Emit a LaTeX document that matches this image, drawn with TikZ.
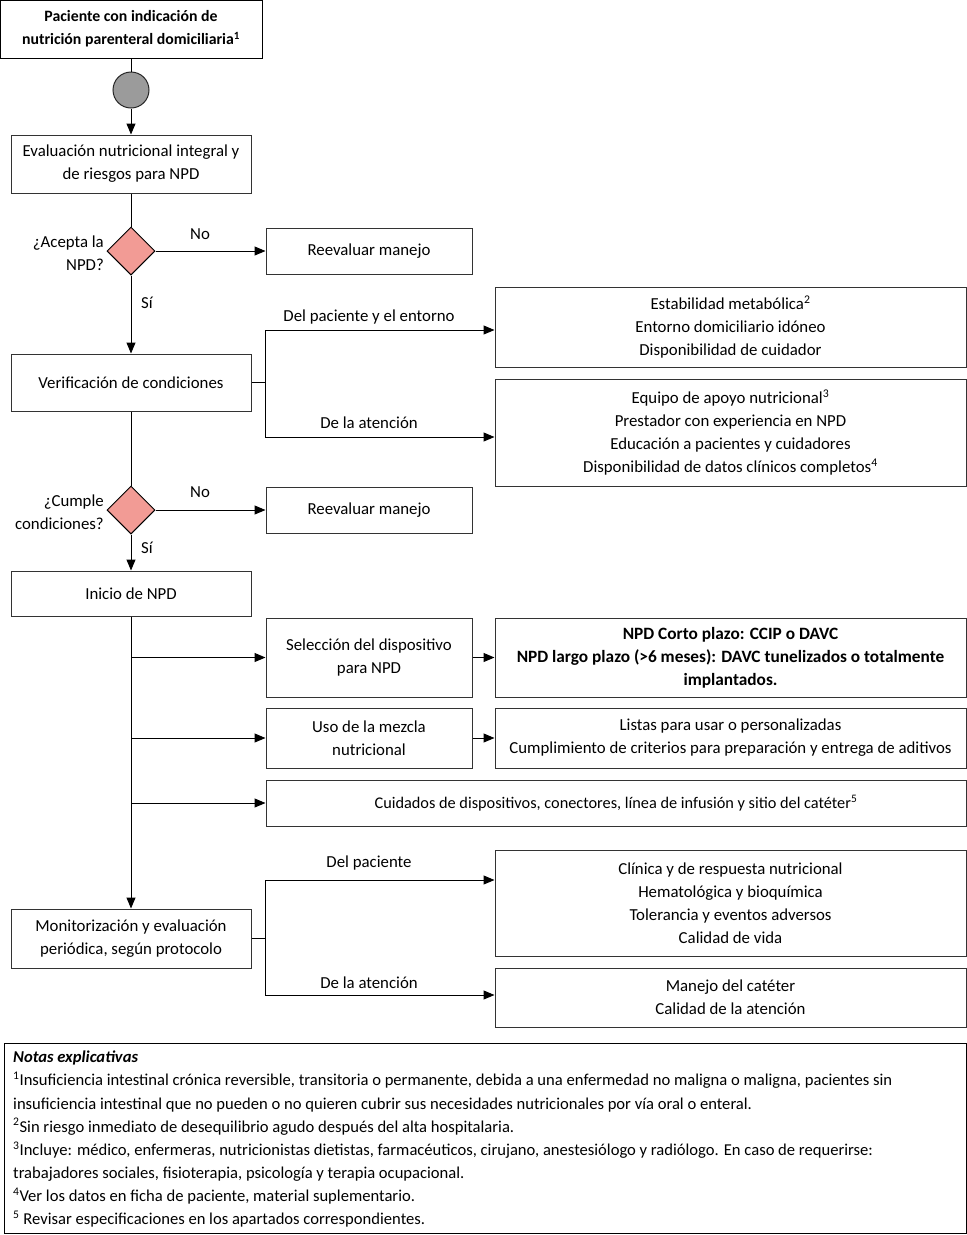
\documentclass[tikz,border=0pt]{standalone}
\usepackage{fontspec}
\setmainfont{Carlito}
\usetikzlibrary{arrows.meta,shapes.geometric}
\definecolor{salmon}{HTML}{F29B95}
\definecolor{circgray}{HTML}{9B9B9B}
\definecolor{edge}{HTML}{333333}
\newcommand\bx[7][]{\node[box,#1, minimum width={#5-#3}, minimum height={#6-#4}] (#2) at ({(#3+#5)/2},{(#4+#6)/2}) {#7};}
\begin{document}
\begin{tikzpicture}[x=1pt,y=-1pt,
  box/.style={draw=edge, line width=1pt, fill=white, align=center, inner sep=0pt, font=\fontsize{16.8}{23}\selectfont},
  arr/.style={-{Triangle[length=11pt,width=9pt]}, line width=1pt, draw=black},
  lnk/.style={line width=1pt, draw=black},
  lbl/.style={font=\fontsize{16.8}{23}\selectfont, inner sep=0pt},
  dia/.style={diamond, draw=black, line width=1pt, fill=salmon, minimum width=48pt, minimum height=48pt, inner sep=0pt}]
\useasboundingbox (0,0) rectangle (967,1235);

% main column
\bx[draw=black,font=\bfseries\fontsize{15.8}{23}\selectfont]{b1}{0}{0}{262}{58}{Paciente con indicación de\\nutrición parenteral domiciliaria\textsuperscript{1}}
\node[circle, draw=black!85, line width=1pt, fill=circgray, minimum size=36pt, inner sep=0pt] (c1) at (131,90) {};
\bx{b2}{11}{135}{251}{193}{Evaluación nutricional integral y\\de riesgos para NPD}
\node[dia] (d1) at (131,251) {};
\node[lbl, anchor=east, align=right] (q1) at (104,253) {¿Acepta la\\NPD?};
\bx{r1}{266}{228}{472}{274}{Reevaluar manejo}
\node[lbl] (no1) at (200,234) {No};
\node[lbl] (si1) at (147,303) {Sí};
\bx{b3}{11}{354}{251}{411}{Verificación de condiciones}
\bx{cb1}{495}{287}{966}{367}{Estabilidad metabólica\textsuperscript{2}\\Entorno domiciliario idóneo\\Disponibilidad de cuidador}
\bx{cb2}{495}{379}{966}{486}{Equipo de apoyo nutricional\textsuperscript{3}\\Prestador con experiencia en NPD\\Educación a pacientes y cuidadores\\Disponibilidad de datos clínicos completos\textsuperscript{4}}
\node[lbl] (l1) at (369,317) {Del paciente y el entorno};
\node[lbl] (l2) at (369,423) {De la atención};
\node[dia] (d2) at (131,510) {};
\node[lbl, anchor=east, align=right] (q2) at (104,512) {¿Cumple\\condiciones?};
\bx{r2}{266}{487}{472}{533}{Reevaluar manejo}
\node[lbl] (no2) at (200,492) {No};
\node[lbl] (si2) at (147,548) {Sí};
\bx{b4}{11}{571}{251}{616}{Inicio de NPD}
\bx{sel}{266}{618}{472}{697}{Selección del dispositivo\\para NPD}
\bx[font=\bfseries\fontsize{17.3}{23}\selectfont]{npd}{495}{618}{966}{697}{NPD Corto plazo: CCIP o DAVC\\NPD largo plazo (>6 meses): DAVC tunelizados o totalmente\\implantados.}
\bx{uso}{266}{708}{472}{768}{Uso de la mezcla\\nutricional}
\bx{lis}{495}{708}{966}{768}{Listas para usar o personalizadas\\Cumplimiento de criterios para preparación y entrega de aditivos}
\bx[font=\fontsize{16.3}{23}\selectfont]{cui}{266}{780}{966}{826}{Cuidados de dispositivos, conectores, línea de infusión y sitio del catéter\textsuperscript{5}}
\bx{b5}{11}{909}{251}{968}{Monitorización y evaluación\\periódica, según protocolo}
\bx{cl}{495}{850}{966}{956}{Clínica y de respuesta nutricional\\Hematológica y bioquímica\\Tolerancia y eventos adversos\\Calidad de vida}
\bx{ma}{495}{968}{966}{1027}{Manejo del catéter\\Calidad de la atención}
\node[lbl] (l3) at (369,863) {Del paciente};
\node[lbl] (l4) at (369,983) {De la atención};

% notes
\node[draw=black, line width=1pt, minimum width=962pt, minimum height=190pt, inner sep=0pt] (nb) at (485,1138) {};
\node[anchor=north west, align=left, inner sep=0pt, font=\fontsize{16.6}{23.1}\selectfont] (nt) at (13,1051) {%
\textbf{\textit{Notas explicativas}}\\
\textsuperscript{1}Insuficiencia intestinal crónica reversible, transitoria o permanente, debida a una enfermedad no maligna o maligna, pacientes sin\\
insuficiencia intestinal que no pueden o no quieren cubrir sus necesidades nutricionales por vía oral o enteral.\\
\textsuperscript{2}Sin riesgo inmediato de desequilibrio agudo después del alta hospitalaria.\\
\textsuperscript{3}Incluye: médico, enfermeras, nutricionistas dietistas, farmacéuticos, cirujano, anestesiólogo y radiólogo. En caso de requerirse:\\
trabajadores sociales, fisioterapia, psicología y terapia ocupacional.\\
\textsuperscript{4}Ver los datos en ficha de paciente, material suplementario.\\
\textsuperscript{5} Revisar especificaciones en los apartados correspondientes.};

% connectors
\coordinate (j1t) at (265,330);
\coordinate (j1b) at (265,437);
\coordinate (j2t) at (265,880);
\coordinate (j2b) at (265,995);
\draw[lnk] (b1) -- (c1);
\draw[arr] (c1) -- (b2);
\draw[lnk] (b2) -- (d1);
\draw[arr] (d1.east) -- (r1.west);
\draw[arr] (d1.south) -- (b3.north);
\draw[lnk] (b3.east) -- (b3.east -| j1t);
\draw[arr] (b3.east -| j1t) -- (j1t) -- (j1t -| cb1.west);
\draw[arr] (b3.east -| j1t) -- (j1b) -- (j1b -| cb2.west);
\draw[lnk] (b3) -- (d2);
\draw[arr] (d2.east) -- (r2.west);
\draw[arr] (d2.south) -- (b4.north);
\draw[arr] (b4.south) -- (b5.north);
\draw[arr] (sel.west -| b4.south) -- (sel.west);
\draw[arr] (uso.west -| b4.south) -- (uso.west);
\draw[arr] (cui.west -| b4.south) -- (cui.west);
\draw[arr] (sel.east) -- (npd.west);
\draw[arr] (uso.east) -- (lis.west);
\draw[lnk] (b5.east) -- (b5.east -| j2t);
\draw[arr] (b5.east -| j2t) -- (j2t) -- (j2t -| cl.west);
\draw[arr] (b5.east -| j2t) -- (j2b) -- (j2b -| ma.west);
\end{tikzpicture}
\end{document}
